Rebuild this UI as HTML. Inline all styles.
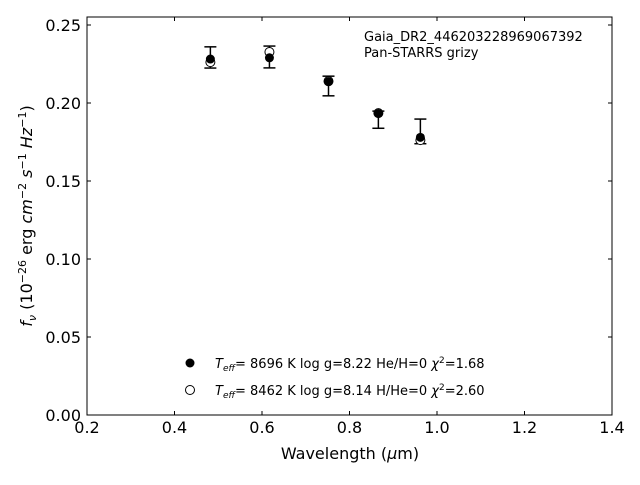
<!DOCTYPE html>
<html><head><meta charset="utf-8"><style>
body{margin:0;background:#fff;font-family:"Liberation Sans","DejaVu Sans",sans-serif}
svg text{font-family:"DejaVu Sans","Liberation Sans",sans-serif}
</style></head><body>
<svg id="chart" width="640" height="480" xmlns="http://www.w3.org/2000/svg">
<rect x="87" y="17" width="525" height="398" fill="#fff" stroke="#000" stroke-width="1"/>
<g id="ticks"></g><g id="marks"></g>
<text x="350" y="459" font-size="16" text-anchor="middle">Wavelength (<tspan font-style="italic">μ</tspan>m)</text>
<text transform="translate(32,216) rotate(-90)" font-size="16" text-anchor="middle"><tspan font-style="italic">f</tspan><tspan font-size="11" dy="4" font-style="italic">ν</tspan><tspan dy="-4"> (10</tspan><tspan font-size="11" dy="-6">−26</tspan><tspan dy="6"> erg </tspan><tspan font-style="italic">cm</tspan><tspan font-size="11" dy="-6">−2</tspan><tspan dy="6" font-style="italic"> s</tspan><tspan font-size="11" dy="-6">−1</tspan><tspan dy="6" font-style="italic"> Hz</tspan><tspan font-size="11" dy="-6">−1</tspan><tspan dy="6">)</tspan></text>
<text x="364" y="41" font-size="13">Gaia_DR2_446203228969067392</text>
<text x="364" y="57" font-size="13">Pan-STARRS grizy</text>
<g>
<circle cx="190" cy="363" r="4.5" fill="#000"/>
<text x="215" y="368" font-size="13"><tspan font-style="italic">T</tspan><tspan font-size="9" dy="3" font-style="italic">eff</tspan><tspan dy="-3">=  8696 K  log g=8.22  He/H=0  </tspan><tspan font-style="italic">χ</tspan><tspan font-size="9" dy="-5">2</tspan><tspan dy="5">=1.68</tspan></text>
<circle cx="190" cy="390" r="4.5" fill="#fff" stroke="#000"/>
<text x="215" y="395" font-size="13"><tspan font-style="italic">T</tspan><tspan font-size="9" dy="3" font-style="italic">eff</tspan><tspan dy="-3">=  8462 K  log g=8.14  H/He=0  </tspan><tspan font-style="italic">χ</tspan><tspan font-size="9" dy="-5">2</tspan><tspan dy="5">=2.60</tspan></text>
</g>
</svg>
<script>
const wavelengths=[0.482,0.617,0.752,0.866,0.962];
const observed=[0.2292,0.2295,0.2109,0.1893,0.1818];
const obsErr=[0.0068,0.0070,0.0063,0.0055,0.0079];
const modelHe=[0.2282,0.2290,0.2137,0.1933,0.1780];
const modelH=[0.2262,0.2327,0.2140,0.1935,0.1762];
const xTicks=[0.2,0.4,0.6,0.8,1.0,1.2,1.4];
const xTickLabels=["0.2","0.4","0.6","0.8","1.0","1.2","1.4"];
const yTicks=[0,0.05,0.10,0.15,0.20,0.25];
const yTickLabels=["0.00","0.05","0.10","0.15","0.20","0.25"];
const NS="http://www.w3.org/2000/svg";
const X=v=>87+(v-0.2)*437.5;
const Y=v=>415-v*1560;
function mk(t,a,p){const e=document.createElementNS(NS,t);for(const k in a)e.setAttribute(k,a[k]);p.appendChild(e);return e;}
const tk=document.getElementById('ticks'),mg=document.getElementById('marks');
xTicks.forEach((v,i)=>{
 let l=mk('line',{x1:X(v),x2:X(v),y1:415,y2:411,stroke:'#000'},tk);
 
 
 let l2=mk('line',{x1:X(v),x2:X(v),y1:17,y2:21,stroke:'#000'},tk);
 
 
 let t=mk('text',{x:X(v),y:433,'font-size':16,'text-anchor':'middle'},tk);t.textContent=xTickLabels[i];
 
 
});
yTicks.forEach((v,i)=>{
 let l=mk('line',{x1:87,x2:91,y1:Y(v),y2:Y(v),stroke:'#000'},tk);
 
 
 let l2=mk('line',{x1:608,x2:612,y1:Y(v),y2:Y(v),stroke:'#000'},tk);
 
 
 let t=mk('text',{x:81,y:Y(v)+6,'font-size':16,'text-anchor':'end'},tk);t.textContent=yTickLabels[i];
 
 
});
wavelengths.forEach((w,i)=>{
 const x=X(w),t=Y(observed[i]+obsErr[i]),b=Y(observed[i]-obsErr[i]);
 const g=mk('g',{},mg);
 
 
 mk('line',{x1:x,x2:x,y1:t,y2:b,stroke:'#000','stroke-width':1.5},g);
 mk('line',{x1:x-6,x2:x+6,y1:t,y2:t,stroke:'#000','stroke-width':1.5},g);
 mk('line',{x1:x-6,x2:x+6,y1:b,y2:b,stroke:'#000','stroke-width':1.5},g);
 const o=mk('circle',{cx:x,cy:Y(modelH[i]),r:4.5,fill:'#fff',stroke:'#000'},mg);
 
 
 const f=mk('circle',{cx:x,cy:Y(modelHe[i]),r:4.5,fill:'#000'},mg);
 
 
});
</script>
</body></html>
